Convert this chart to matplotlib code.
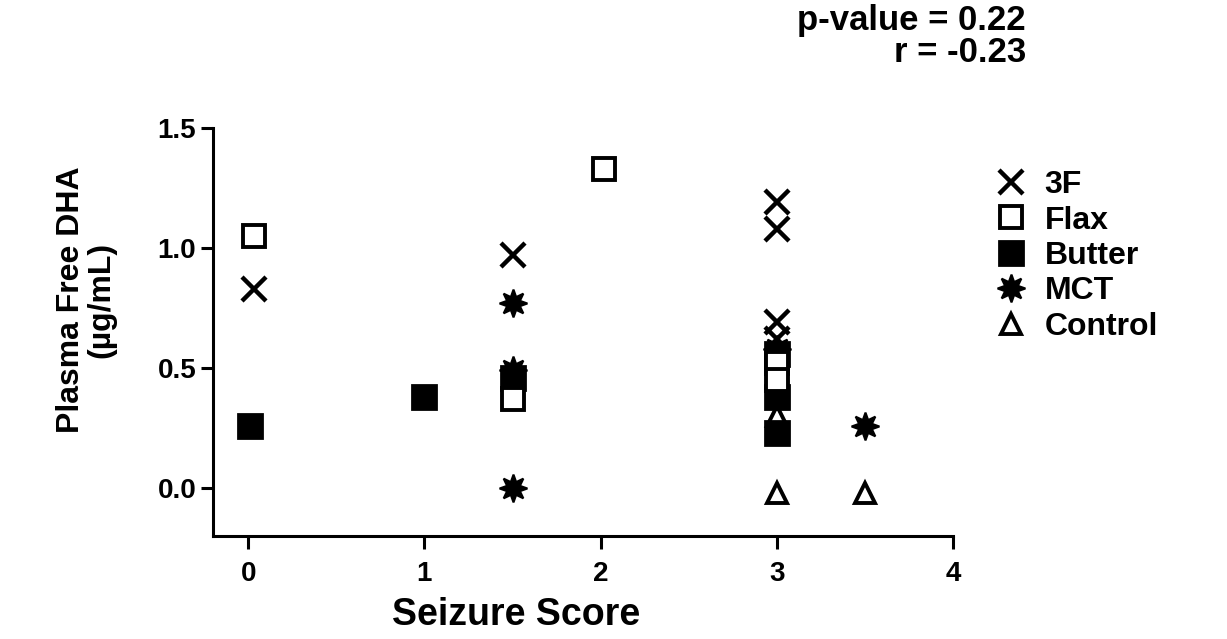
import matplotlib
matplotlib.use("Agg")
import matplotlib.pyplot as plt

plt.rcParams["font.family"] = ["Liberation Sans", "DejaVu Sans"]
plt.rcParams["font.weight"] = "bold"

# seizure score / plasma free DHA (ug/mL) per diet group
f3_x = [0.03, 1.5, 3.0, 3.0, 3.0, 3.0]
f3_y = [0.83, 0.97, 1.19, 1.08, 0.69, 0.62]

flax_x = [0.03, 2.02, 1.5, 3.0, 3.0]
flax_y = [1.05, 1.33, 0.37, 0.52, 0.45]

butter_x = [0.01, 1.0, 1.5, 3.0, 3.0, 3.0]
butter_y = [0.26, 0.38, 0.46, 0.56, 0.38, 0.23]

mct_x = [1.5, 1.5, 1.5, 3.0, 3.5]
mct_y = [0.77, 0.49, 0.0, 0.58, 0.26]

control_x = [3.0, 3.0, 3.5]
control_y = [0.30, -0.02, -0.02]

x_ticks = [0, 1, 2, 3, 4]
y_ticks = [0.0, 0.5, 1.0, 1.5]
y_ticklabels = ["0.0", "0.5", "1.0", "1.5"]

fig = plt.figure(figsize=(12.27, 6.39), dpi=100)
ax = fig.add_axes([0.1736, 0.1612, 0.6031, 0.6385])

lw = 2.2
ax.plot(control_x, control_y, ls="none", marker="^", ms=15, mfc="white",
        mec="black", mew=2.8, label="Control", zorder=2)
ax.plot(mct_x, mct_y, ls="none", marker=(8, 1, 0), ms=20, mfc="black",
        mec="black", mew=1.5, label="MCT", zorder=3)
ax.plot(butter_x, butter_y, ls="none", marker="s", ms=17, mfc="black",
        mec="black", mew=2.0, label="Butter", zorder=4)
ax.plot(flax_x, flax_y, ls="none", marker="s", ms=16, mfc="white",
        mec="black", mew=2.8, label="Flax", zorder=5)
ax.plot(f3_x, f3_y, ls="none", marker="x", ms=17, mec="black",
        mew=3.2, label="3F", zorder=6)

ax.set_xlim(-0.2, 4)
ax.set_ylim(-0.2, 1.5)
ax.set_xticks(x_ticks)
ax.set_yticks(y_ticks)
ax.set_yticklabels(y_ticklabels)

for s in ["top", "right"]:
    ax.spines[s].set_visible(False)
for s in ["left", "bottom"]:
    ax.spines[s].set_linewidth(lw)
ax.tick_params(direction="out", length=9, width=lw, labelsize=20)
ax.tick_params(axis="x", pad=9)
ax.tick_params(axis="y", pad=3)

ax.set_xlabel("Seizure Score", fontsize=27, fontweight="bold")
ax.xaxis.set_label_coords(0.41, -0.15)
ax.set_ylabel("Plasma Free DHA\n(\u00b5g/mL)", fontsize=23, fontweight="bold",
              linespacing=1.05)
ax.yaxis.set_label_coords(-0.13, 0.578)

handles, labels = ax.get_legend_handles_labels()
order = [4, 3, 2, 1, 0]
ax.legend([handles[i] for i in order], [labels[i] for i in order],
          loc="upper left", bbox_to_anchor=(1.035, 0.928), frameon=False,
          fontsize=23, handletextpad=0.45, labelspacing=0.17,
          handlelength=1.2, borderaxespad=0)

fig.text(0.836, 0.968, "p-value = 0.22", fontsize=25, fontweight="bold",
         ha="right", va="center")
fig.text(0.836, 0.918, "r = -0.23", fontsize=25, fontweight="bold",
         ha="right", va="center")

fig.savefig("out.png", dpi=100)
